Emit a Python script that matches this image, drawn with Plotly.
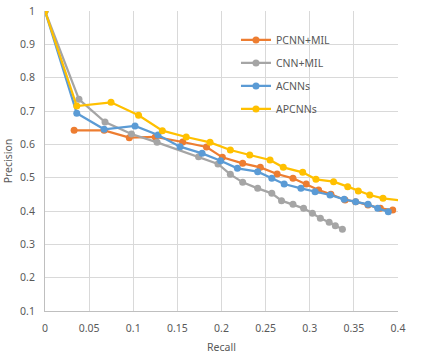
import plotly.graph_objects as go

# Data
pcnn_recall = [0.033, 0.067, 0.0955, 0.125, 0.156, 0.183, 0.201, 0.224, 0.244, 0.263,
               0.281, 0.296, 0.310, 0.324, 0.340, 0.352, 0.366, 0.380, 0.394]
pcnn_prec = [0.642, 0.642, 0.620, 0.622, 0.607, 0.592, 0.561, 0.543, 0.531, 0.511,
             0.498, 0.481, 0.463, 0.450, 0.433, 0.428, 0.418, 0.408, 0.403]

cnn_recall = [0.0, 0.0385, 0.068, 0.098, 0.127, 0.174, 0.196, 0.210, 0.224, 0.241,
              0.257, 0.268, 0.281, 0.293, 0.303, 0.312, 0.322, 0.329, 0.337]
cnn_prec = [1.0, 0.735, 0.667, 0.631, 0.606, 0.563, 0.541, 0.510, 0.486, 0.468,
            0.453, 0.431, 0.420, 0.408, 0.393, 0.378, 0.366, 0.356, 0.345]

acnn_recall = [0.0, 0.036, 0.067, 0.102, 0.128, 0.153, 0.178, 0.199, 0.218, 0.241,
               0.257, 0.271, 0.290, 0.306, 0.323, 0.339, 0.352, 0.366, 0.377, 0.389]
acnn_prec = [1.0, 0.693, 0.645, 0.655, 0.628, 0.593, 0.573, 0.551, 0.528, 0.518,
             0.498, 0.481, 0.468, 0.458, 0.448, 0.435, 0.428, 0.420, 0.408, 0.398]

apcnn_recall = [0.0, 0.036, 0.0748, 0.106, 0.133, 0.160, 0.187, 0.210, 0.232, 0.255,
                0.270, 0.292, 0.307, 0.327, 0.343, 0.355, 0.368, 0.383, 0.410]
apcnn_prec = [1.0, 0.715, 0.726, 0.687, 0.641, 0.622, 0.606, 0.583, 0.568, 0.553,
              0.531, 0.516, 0.495, 0.488, 0.473, 0.460, 0.448, 0.438, 0.430]

x_ticks = [0, 0.05, 0.1, 0.15, 0.2, 0.25, 0.3, 0.35, 0.4]
x_tick_labels = ["0", "0.05", "0.1", "0.15", "0.2", "0.25", "0.3", "0.35", "0.4"]
y_ticks = [0.1, 0.2, 0.3, 0.4, 0.5, 0.6, 0.7, 0.8, 0.9, 1.0]
y_tick_labels = ["0.1", "0.2", "0.3", "0.4", "0.5", "0.6", "0.7", "0.8", "0.9", "1"]

series = [
    ("PCNN+MIL", pcnn_recall, pcnn_prec, "#ED7D31"),
    ("CNN+MIL", cnn_recall, cnn_prec, "#A5A5A5"),
    ("ACNNs", acnn_recall, acnn_prec, "#5B9BD5"),
    ("APCNNs", apcnn_recall, apcnn_prec, "#FFC000"),
]

fig = go.Figure()
for name, xs, ys, color in series:
    fig.add_trace(go.Scatter(
        x=xs, y=ys, name=name, legendgroup=name, mode="lines+markers",
        line=dict(color=color, width=2.25),
        marker=dict(color=color, size=7),
        cliponaxis=True,
    ))

FONT = "Noto Sans, Open Sans, sans-serif"
TXT = "#595959"

fig.update_layout(
    width=423, height=356,
    margin=dict(l=45, r=25, t=11, b=45, autoexpand=False),
    paper_bgcolor="white", plot_bgcolor="white",
    font=dict(family=FONT, size=10.5, color=TXT),
    showlegend=True,
    legend=dict(x=0.541, y=0.952, xanchor="left", yanchor="top",
                bgcolor="rgba(0,0,0,0)", font=dict(family=FONT, size=10.5, color=TXT),
                itemwidth=30, tracegroupgap=4),
)
fig.update_xaxes(
    range=[0, 0.4], tickvals=x_ticks, ticktext=x_tick_labels,
    showgrid=True, gridcolor="#D9D9D9", gridwidth=1,
    showline=True, linecolor="#BFBFBF", linewidth=1,
    zeroline=False, ticks="", automargin=False, ticklabelstandoff=7,
    ticklabeloverflow="allow",
    title=dict(text="Recall", font=dict(family=FONT, size=10.5, color=TXT), standoff=10),
)
fig.update_yaxes(
    range=[0.1, 1.0], tickvals=y_ticks, ticktext=y_tick_labels,
    showgrid=True, gridcolor="#D9D9D9", gridwidth=1,
    showline=True, linecolor="#BFBFBF", linewidth=1,
    zeroline=False, ticks="", automargin=False, ticklabelstandoff=7,
    ticklabeloverflow="allow",
    title=dict(text="Precision", font=dict(family=FONT, size=10.5, color=TXT), standoff=5),
)

# Remove the default page margin so the 423x356 figure fills the window exactly.
fig.write_html(
    "out.html",
    config={"displayModeBar": False, "staticPlot": True},
    post_script="document.body.style.margin='0';document.body.style.overflow='hidden';",
)
